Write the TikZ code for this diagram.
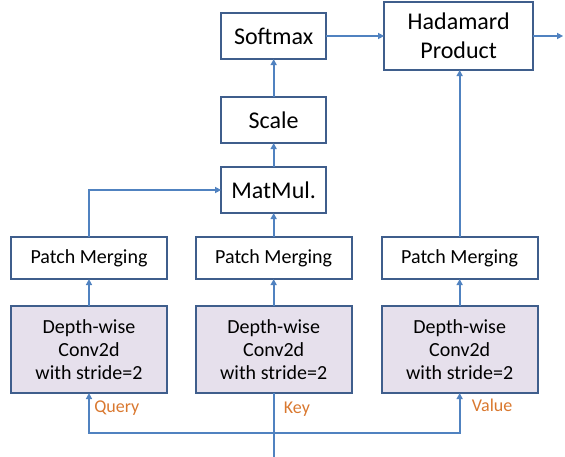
\documentclass[tikz,border=0pt]{standalone}
\usepackage{fontspec}
\setmainfont{Carlito}
\usetikzlibrary{arrows.meta,positioning}
\definecolor{edge}{HTML}{3F5E8C}
\definecolor{wire}{HTML}{5082C0}
\definecolor{lilac}{HTML}{E6E0EC}
\definecolor{rust}{HTML}{D9782F}

\begin{document}
\begin{tikzpicture}[x=0.75pt,y=-0.75pt,>={Triangle[length=4.5pt,width=4.5pt]}]
  \tikzset{opbox/.style={draw=edge,line width=1.4pt,outer sep=0pt,minimum width=78.85pt,minimum height=34.6pt,align=center,fill=white,font=\fontsize{18}{21.5}\selectfont},
    mergebox/.style={draw=edge,line width=1.4pt,outer sep=0pt,minimum width=117.1pt,minimum height=31.6pt,align=center,fill=white,font=\fontsize{15}{17.5}\selectfont},
    convbox/.style={mergebox,fill=lilac,minimum height=65.35pt},
    link/.style={wire,line width=1.3pt},
    tag/.style={text=rust,inner sep=0pt,anchor=north west,font=\fontsize{13.5}{15}\selectfont}}
  \useasboundingbox (0,0) rectangle (565,457);
  \node[convbox] (qconv) at (89,349.5) {Depth-wise\\Conv2d\\with stride=2};
  \node[convbox,right=21.4pt of qconv] (kconv) {Depth-wise\\Conv2d\\with stride=2};
  \node[convbox,right=22.4pt of kconv] (vconv) {Depth-wise\\Conv2d\\with stride=2};
  \node[mergebox,above=20.15pt of qconv] (qpm) {Patch Merging};
  \node[mergebox,above=20.15pt of kconv] (kpm) {Patch Merging};
  \node[mergebox,above=20.15pt of vconv] (vpm) {Patch Merging};
  \node[opbox,above=17.9pt of kpm] (matmul) {MatMul.};
  \node[opbox,above=17.9pt of matmul] (scale) {Scale};
  \node[opbox,above=28.4pt of scale] (softmax) {Softmax};
  \node[opbox,minimum width=111.85pt,minimum height=51.1pt,right=43.4pt of softmax] (hadamard) {Hadamard\\Product};
  \coordinate[below=29.9pt of kconv.south] (split);
  \coordinate[below=48pt of kconv.south] (input);
  \coordinate[right=22.4pt of hadamard.east] (out);
  \draw[link] (input) -- (kconv.south);
  \draw[link,->] (split) -| (qconv.south);
  \draw[link,->] (split) -| (vconv.south);
  \draw[link,->] (qconv) -- (qpm);
  \draw[link,->] (kconv) -- (kpm);
  \draw[link,->] (vconv) -- (vpm);
  \draw[link,->] (qpm.north) |- (matmul.west);
  \draw[link,->] (kpm) -- (matmul);
  \draw[link,->] (matmul) -- (scale);
  \draw[link,->] (scale) -- (softmax);
  \draw[link,->] (softmax) -- (hadamard);
  \draw[link,->] (vpm.north) -- (vpm.north |- hadamard.south);
  \draw[link,->] (hadamard) -- (out);
  \node[tag,below right=5.5pt and 3.75pt of qconv.south] (qtag) {Query};
  \node[tag,below right=6.5pt and 7.5pt of kconv.south] (ktag) {Key};
  \node[tag,below right=4.5pt and 9pt of vconv.south] (vtag) {Value};
\end{tikzpicture}
\end{document}
